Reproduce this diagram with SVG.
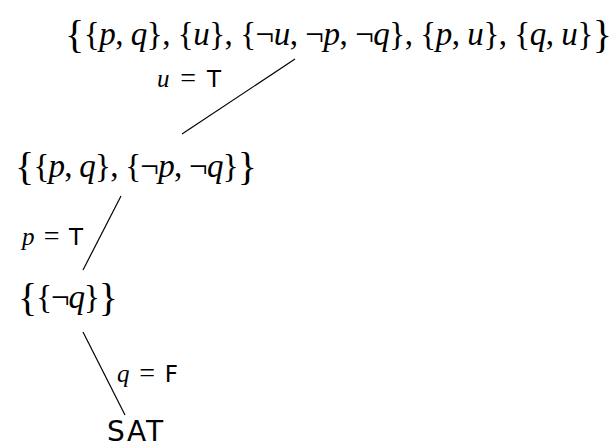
<svg xmlns="http://www.w3.org/2000/svg" width="616" height="448" viewBox="0 0 616 448">
<style>
.m{font-family:"Liberation Serif","DejaVu Serif",serif;font-size:33px;fill:#000}
.i{font-style:italic}
.big{font-size:40px}
.lb{font-family:"Liberation Serif","DejaVu Serif",serif;font-size:25px;fill:#000}
.eq{font-size:28px}
.sf{font-family:"DejaVu Sans","Liberation Sans",sans-serif;font-style:normal;font-size:23px}
.sat{font-family:"DejaVu Sans","Liberation Sans",sans-serif;font-size:28px;fill:#000}
.edge{stroke:#000;stroke-width:1.2;fill:none}
</style>
<rect width="616" height="448" fill="#fff"/>
<g id="connectors">
<line class="edge" x1="295" y1="59" x2="182" y2="134"/>
<line class="edge" x1="121" y1="196" x2="83" y2="270"/>
<line class="edge" x1="83" y1="332" x2="125" y2="415"/>
</g>
<g id="node1">
<text class="m" x="65" y="45" textLength="547" lengthAdjust="spacing"><tspan class="big" dy="3">{</tspan><tspan dy="-3">{</tspan><tspan class="i">p</tspan>, <tspan class="i">q</tspan>}, {<tspan class="i">u</tspan>}, {¬<tspan class="i">u</tspan>, ¬<tspan class="i">p</tspan>, ¬<tspan class="i">q</tspan>}, {<tspan class="i">p</tspan>, <tspan class="i">u</tspan>}, {<tspan class="i">q</tspan>, <tspan class="i">u</tspan>}<tspan class="big" dy="3">}</tspan></text>
</g>
<g id="label1">
<text class="lb" x="157" y="87" textLength="64" lengthAdjust="spacing"><tspan class="i">u</tspan> <tspan class="eq">=</tspan> <tspan class="sf">T</tspan></text>
</g>
<g id="node2">
<text class="m" x="15" y="177" textLength="242" lengthAdjust="spacing"><tspan class="big" dy="3">{</tspan><tspan dy="-3">{</tspan><tspan class="i">p</tspan>, <tspan class="i">q</tspan>}, {¬<tspan class="i">p</tspan>, ¬<tspan class="i">q</tspan>}<tspan class="big" dy="3">}</tspan></text>
</g>
<g id="label2">
<text class="lb" x="22" y="245" textLength="61" lengthAdjust="spacing"><tspan class="i">p</tspan> <tspan class="eq">=</tspan> <tspan class="sf">T</tspan></text>
</g>
<g id="node3">
<text class="m" x="18" y="308" textLength="100" lengthAdjust="spacing"><tspan class="big" dy="3">{</tspan><tspan dy="-3">{</tspan>¬<tspan class="i">q</tspan>}<tspan class="big" dy="3">}</tspan></text>
</g>
<g id="label3">
<text class="lb" x="117" y="382" textLength="61" lengthAdjust="spacing"><tspan class="i">q</tspan> <tspan class="eq">=</tspan> <tspan class="sf">F</tspan></text>
</g>
<g id="node4">
<text class="sat" x="107" y="441" textLength="56" lengthAdjust="spacing">SAT</text>
</g>
</svg>
